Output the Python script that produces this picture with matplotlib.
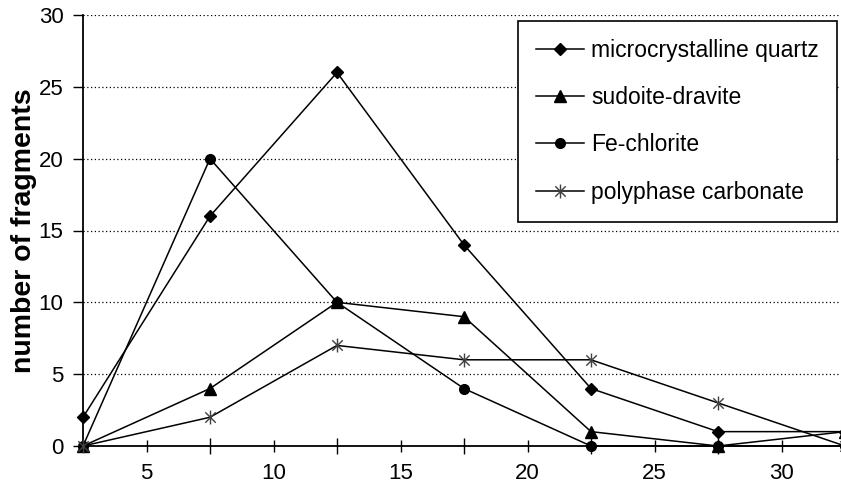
import numpy as np
import matplotlib
matplotlib.use("Agg")
import matplotlib.pyplot as plt
from matplotlib.path import Path
from matplotlib.ticker import FixedLocator

plt.rcParams['font.family'] = ['Liberation Sans', 'DejaVu Sans']

x = [2.5, 7.5, 12.5, 17.5, 22.5, 27.5, 32.5]
quartz = [2, 16, 26, 14, 4, 1, 1]
sudoite = [0, 4, 10, 9, 1, 0, 1]
chlorite = [0, 20, 10, 4, 0, 0, 0]
carbonate = [0, 2, 7, 6, 6, 3, 0]
labels = ["microcrystalline quartz", "sudoite-dravite", "Fe-chlorite", "polyphase carbonate"]
xticklabels = [5, 10, 15, 20, 25, 30]
xminor = [7.5, 12.5, 17.5, 22.5, 27.5, 32.5]
yticks = [0, 5, 10, 15, 20, 25, 30]

star = Path([(0, -1), (0, 1), (-0.75, -0.75), (0.75, 0.75), (-0.75, 0.75), (0.75, -0.75)],
            [Path.MOVETO, Path.LINETO, Path.MOVETO, Path.LINETO, Path.MOVETO, Path.LINETO])

W, H = 841, 483
fig = plt.figure(figsize=(W / 100, H / 100), dpi=100)
l, r, b, t = 83, 845, 446, 15
ax = fig.add_axes([l / W, (H - b) / H, (r - l) / W, (b - t) / H])

kw = dict(color='black', lw=1.1, clip_on=False, zorder=3)
ax.plot(x, quartz, marker='D', ms=6.5, mfc='black', mec='black', label=labels[0], **kw)
ax.plot(x, sudoite, marker='^', ms=8, mfc='black', mec='black', label=labels[1], **kw)
ax.plot(x, chlorite, marker='o', ms=7, mfc='black', mec='black', label=labels[2], **kw)
ax.plot(x, carbonate, marker=star, ms=10, mfc='none', mec='#404040', mew=1.0, label=labels[3], **kw)

ax.set_xlim(2.5, 32.5)
ax.set_ylim(0, 30)
ax.set_yticks(yticks)
ax.xaxis.set_major_locator(FixedLocator(xticklabels))
ax.xaxis.set_minor_locator(FixedLocator(xminor))
ax.set_xticklabels([str(v) for v in xticklabels])
ax.tick_params(axis='x', which='major', direction='inout', length=8, width=1, labelsize=16, pad=8)
ax.tick_params(axis='x', which='minor', direction='inout', length=11, width=1)
ax.tick_params(axis='y', direction='out', length=7, width=1, labelsize=16, pad=7)

for s in ['top', 'right']:
    ax.spines[s].set_visible(False)
ax.spines['left'].set_linewidth(1.3)
ax.spines['bottom'].set_linewidth(1.3)

ax.yaxis.grid(True, linestyle=(0, (1, 2)), color='black', lw=0.9)
ax.set_axisbelow(True)

ax.set_ylabel("number of fragments", fontsize=20.5, fontweight='bold', labelpad=1)

leg = ax.legend(loc='upper right', bbox_to_anchor=((837 - l) / (r - l), (b - 21) / (b - t)),
                fontsize=16.5, frameon=True, fancybox=False, framealpha=1, edgecolor='black',
                borderpad=0.8, labelspacing=1.05, handlelength=2.1, handletextpad=0.3,
                borderaxespad=0)
leg.get_frame().set_linewidth(1.2)
leg.set_zorder(5)

fig.savefig("out.png", dpi=100)
